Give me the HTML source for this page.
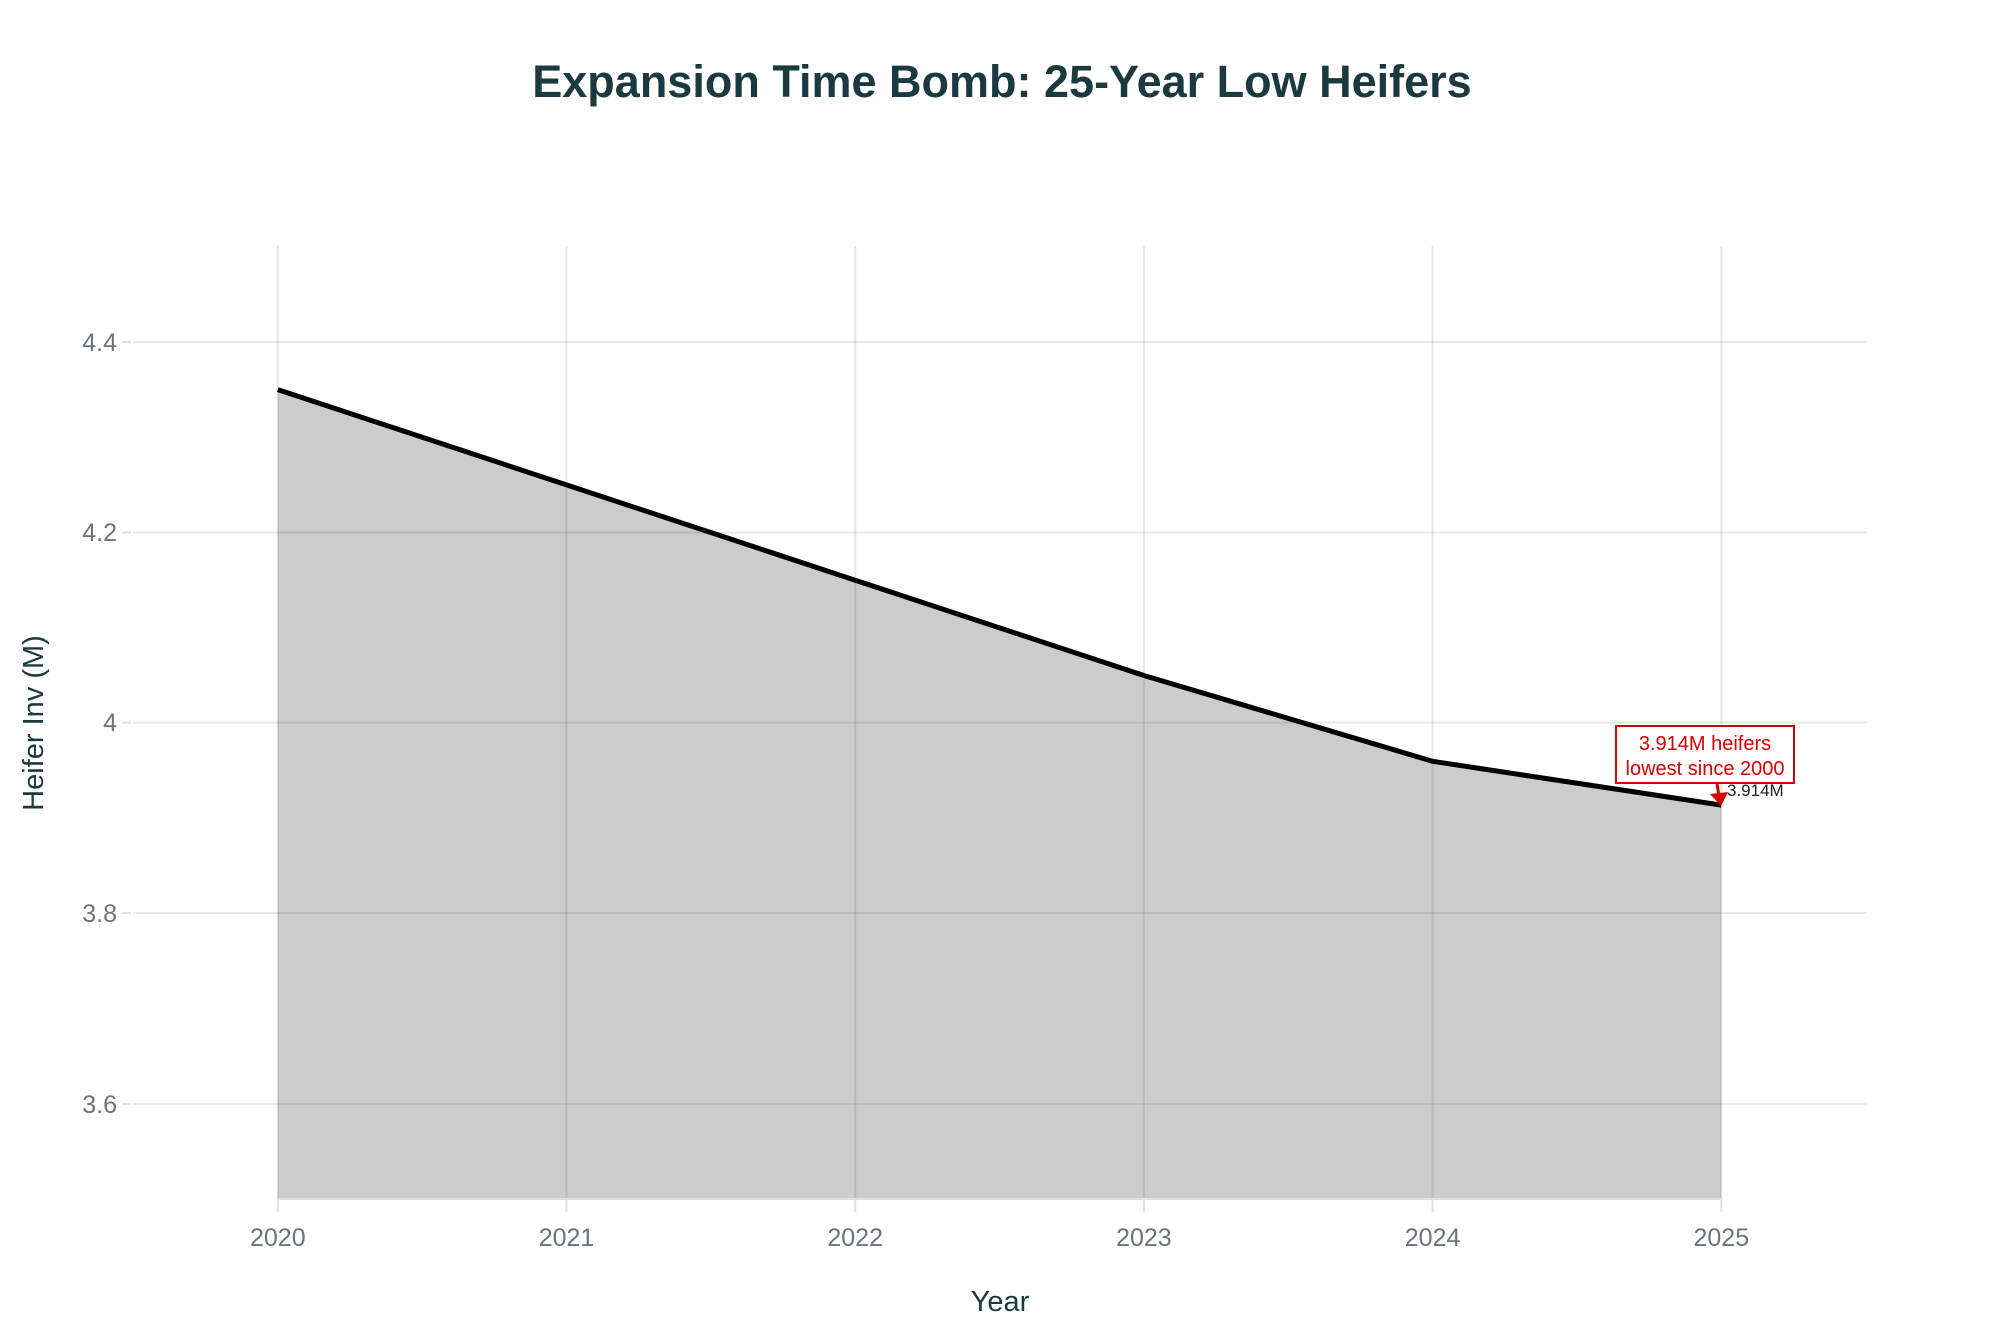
<!DOCTYPE html>
<html><head><meta charset="utf-8"><style>
html,body{margin:0;padding:0;background:#fff;}
svg{display:block;font-family:"Liberation Sans",sans-serif;}
</style></head><body>
<svg width="2000" height="1333" viewBox="0 0 2000 1333" xmlns="http://www.w3.org/2000/svg">
<rect width="2000" height="1333" fill="#fff"/>
<text x="1002" y="97" text-anchor="middle" font-size="45" font-weight="bold" fill="#1a3a3f">Expansion Time Bomb: 25-Year Low Heifers</text>
<polygon points="277.8,389.6 566.5,484.9 855.2,580.2 1143.9,675.5 1432.6,761.3 1721.3,805.1 1721.3,1199 277.8,1199" fill="#cccccc"/>
<g stroke="#000" stroke-opacity="0.09" stroke-width="2">
<line x1="133" y1="342" x2="1867" y2="342"/>
<line x1="133" y1="532.6" x2="1867" y2="532.6"/>
<line x1="133" y1="722.6" x2="1867" y2="722.6"/>
<line x1="133" y1="913" x2="1867" y2="913"/>
<line x1="133" y1="1104" x2="1867" y2="1104"/>
<line x1="277.8" y1="246" x2="277.8" y2="1199"/>
<line x1="566.5" y1="246" x2="566.5" y2="1199"/>
<line x1="855.2" y1="246" x2="855.2" y2="1199"/>
<line x1="1143.9" y1="246" x2="1143.9" y2="1199"/>
<line x1="1432.6" y1="246" x2="1432.6" y2="1199"/>
<line x1="1721.3" y1="246" x2="1721.3" y2="1199"/>
</g>
<line x1="277.8" y1="1199" x2="1721.3" y2="1199" stroke="#e0e0e0" stroke-width="2"/>
<g stroke="#e0e0e0" stroke-width="2">
<line x1="277.8" y1="1199" x2="277.8" y2="1212"/><line x1="566.5" y1="1199" x2="566.5" y2="1212"/>
<line x1="855.2" y1="1199" x2="855.2" y2="1212"/><line x1="1143.9" y1="1199" x2="1143.9" y2="1212"/>
<line x1="1432.6" y1="1199" x2="1432.6" y2="1212"/><line x1="1721.3" y1="1199" x2="1721.3" y2="1212"/>
<line x1="122" y1="342" x2="131" y2="342"/><line x1="122" y1="532.6" x2="131" y2="532.6"/>
<line x1="122" y1="722.6" x2="131" y2="722.6"/><line x1="122" y1="913" x2="131" y2="913"/>
<line x1="122" y1="1104" x2="131" y2="1104"/>
</g>
<polyline points="277.8,389.6 566.5,484.9 855.2,580.2 1143.9,675.5 1432.6,761.3 1721.3,805.1" fill="none" stroke="#000" stroke-width="5" stroke-linejoin="round"/>
<g font-size="25" fill="#6b747c" text-anchor="end">
<text x="117" y="351">4.4</text><text x="117" y="541">4.2</text><text x="117" y="731">4</text>
<text x="117" y="922">3.8</text><text x="117" y="1113">3.6</text>
</g>
<g font-size="25" fill="#6b747c" text-anchor="middle">
<text x="277.8" y="1246">2020</text><text x="566.5" y="1246">2021</text><text x="855.2" y="1246">2022</text>
<text x="1143.9" y="1246">2023</text><text x="1432.6" y="1246">2024</text><text x="1721.3" y="1246">2025</text>
</g>
<text x="1000" y="1311" text-anchor="middle" font-size="29" fill="#1a3a3f">Year</text>
<text transform="translate(43,723) rotate(-90)" text-anchor="middle" font-size="29" fill="#1a3a3f">Heifer Inv (M)</text>
<rect x="1616" y="726" width="178" height="57" fill="#fff" stroke="#d50000" stroke-width="2"/>
<text x="1705" y="750" text-anchor="middle" font-size="20" fill="#d50000">3.914M heifers</text>
<text x="1705" y="775" text-anchor="middle" font-size="20" fill="#d50000">lowest since 2000</text>
<line x1="1717" y1="784" x2="1719" y2="796" stroke="#d50000" stroke-width="3"/>
<polygon points="1710,794 1728,792 1721,806" fill="#d50000"/>
<text x="1727" y="796" font-size="17" fill="#222">3.914M</text>
</svg>
</body></html>
